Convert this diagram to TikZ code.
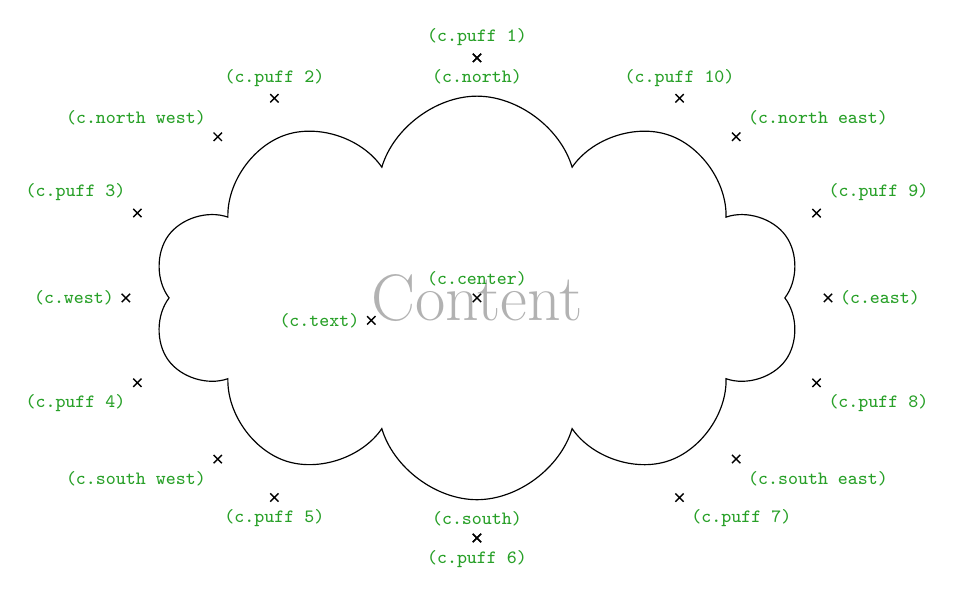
\documentclass[tikz,border=0pt]{standalone}
\usetikzlibrary{shapes.symbols}
\definecolor{lblgreen}{RGB}{40,160,40}
\tikzset{
  cloudshape/.style={cloud, cloud puffs=10, cloud puff arc=147, aspect=2.24,
    inner xsep=47.7pt, inner ysep=1em, outer sep=16.3pt, draw=black, line width=0.5pt,
    text=black!30, font=\fontsize{28}{34}\selectfont},
  anchorlabel/.style={text=lblgreen, font=\fontsize{8}{9.6}\selectfont\ttfamily, inner sep=4.8pt},
  anchormark/.style={line width=0.6pt},
}
\begin{document}
\begin{tikzpicture}
  \node[name=c, cloudshape] {Content};
  \useasboundingbox ([shift={(-203pt,-126.4pt)}]c.center) rectangle ([shift={(204.3pt,126.8pt)}]c.center);
  \foreach \anchor/\placement in
    {puff 1/above, puff 2/above, puff 3/above left, puff 4/below left,
     puff 5/below, puff 6/below, puff 7/below right, puff 8/below right,
     puff 9/above right, puff 10/above, text/left, center/above,
     north west/above left, north/below, north east/above right, east/right,
     south east/below right, south/above, south west/below left, west/left}
  \draw[anchormark, shift=(c.\anchor)] plot[mark=x, mark size=2.5pt] coordinates{(0,0)}
    node[anchorlabel, \placement] {(c.\anchor)};
\end{tikzpicture}
\end{document}
